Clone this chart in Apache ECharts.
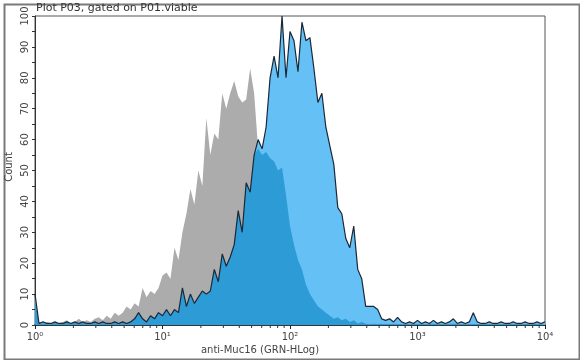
<!DOCTYPE html>
<html><head><meta charset="utf-8">
<script src="https://cdn.jsdelivr.net/npm/echarts@6/dist/echarts.min.js"></script>
<style>html,body{margin:0;padding:0;background:#fff}#c{width:580px;height:360px}</style>
</head><body><div id="c"></div>
<script>
// Histogram bins: 32 bins per decade from 10^0 to 10^4
const binsPerDecade = 32;
const decades = 4;
const xTickLabels = ['10\u2070','10\u00b9','10\u00b2','10\u00b3','10\u2074'];
const minorTickValues = [2,3,4,5,6,7,8,9,20,30,40,50,60,70,80,90,200,300,400,500,600,700,800,900,2000,3000,4000,5000,6000,7000,8000,9000];
const yTicks = [0,10,20,30,40,50,60,70,80,90,100];

// control (gray)
const control = [8,1,0.5,1,0.5,1,0.5,1,1.5,0.5,1,2,1,1.5,1,2,2.5,1.5,3,2,4,3,4,6,5,7,6,12,9,11,10,12,16,17,15,25,21,30,36,44,39,50,45,67,55,62,60,75,70,75,79,74,72,73,83,75,57,55,56,54,53,50,51,42,32,26,21,18,13,10,8,6,5,4,3,2,2.5,1.5,2,1,1.5,0.5,1,0.4,0.3,0.4,0.3,0.4,0.3,0.3,0.4,0.3,0.3,0.4,0.3,0.3,0.4,0.3,0.3,0.3,0.4,0.3,0.3,0.3,0.3,0.4,0.3,0.3,0.3,0.3,0.3,0.3,0.3,0.3,0.3,0.3,0.3,0.3,0.3,0.3,0.3,0.3,0.3,0.3,0.3,0.3,0.3,0.3,0.3];
// anti-Muc16 stained (light blue with outline)
const stained = [10,0.5,1,0.5,0.5,1,0.5,0.5,1,0.5,1,0.5,1,0.5,0.5,1,0.5,1,0.5,0.5,1,0.5,1,0.5,1,2,4,2,1,3,2,4,3,5,3,5,4,12,6,10,7,9,11,10,11,18,14,23,19,22,26,37,30,46,43,55,60,57,64,80,87,80,100,80,95,92,82,98,92,93,83,72,75,64,58,52,38,36,28,25,32,18,15,6,6,6,5,2,1.5,2,1,2.5,1,0.5,1,0.5,1.5,0.5,1,0.5,1.5,0.5,1,0.5,1,2,0.5,1,0.5,1,4,1,0.5,0.5,1,0.5,0.5,1,0.5,0.5,1,0.5,0.5,1,0.5,0.5,1,0.5,1];
// overlap region (darker blue)
const overlap = [8,0.5,0.5,0.5,0.5,1,0.5,0.5,1,0.5,1,0.5,1,0.5,0.5,1,0.5,1,0.5,0.5,1,0.5,1,0.5,1,2,4,2,1,3,2,4,3,5,3,5,4,12,6,10,7,9,11,10,11,18,14,23,19,22,26,37,30,46,43,55,57,55,56,54,53,50,51,42,32,26,21,18,13,10,8,6,5,4,3,2,2.5,1.5,2,1,1.5,0.5,1,0.4,0.3,0.4,0.3,0.4,0.3,0.3,0.4,0.3,0.3,0.4,0.3,0.3,0.4,0.3,0.3,0.3,0.4,0.3,0.3,0.3,0.3,0.4,0.3,0.3,0.3,0.3,0.3,0.3,0.3,0.3,0.3,0.3,0.3,0.3,0.3,0.3,0.3,0.3,0.3,0.3,0.3,0.3,0.3,0.3,0.3];

const binX = [];
for (let i = 0; i <= binsPerDecade * decades; i++) binX.push(Math.pow(10, i / binsPerDecade));
const pairs = arr => arr.map((v, i) => [binX[i], v]);

const FONT = 'DejaVu Sans';
const chart = echarts.init(document.getElementById('c'), null, {renderer: 'canvas'});
chart.setOption({
  animation: false,
  backgroundColor: '#fff',
  grid: {left: 35, right: 35, top: 16, bottom: 35, show: true, borderColor: '#555', borderWidth: 1},
  xAxis: {
    type: 'log', logBase: 10, min: 1, max: 10000,
    axisLine: {show: true, lineStyle: {color: '#111', width: 1.5}},
    axisTick: {show: true, length: 4, lineStyle: {color: '#222'}},
    splitLine: {show: false},
    axisLabel: {fontFamily: FONT, fontSize: 10, color: '#444', margin: 7,
      formatter: v => xTickLabels[Math.round(Math.log10(v))]}
  },
  yAxis: {
    type: 'value', min: 0, max: 100, interval: 10,
    axisLine: {show: true, lineStyle: {color: '#333', width: 1}},
    axisTick: {show: true, length: 3, lineStyle: {color: '#333'}},
    minorTick: {show: true, splitNumber: 2, length: 3, lineStyle: {color: '#333'}},
    splitLine: {show: false},
    axisLabel: {show: false}
  },
  series: [
    {type: 'line', data: pairs(control), symbol: 'none', lineStyle: {width: 0},
     areaStyle: {color: '#acacac', opacity: 1}, silent: true},
    {type: 'line', data: pairs(stained), symbol: 'none', lineStyle: {width: 0},
     areaStyle: {color: '#65c1f5', opacity: 1}, silent: true},
    {type: 'line', data: pairs(overlap), symbol: 'none', lineStyle: {width: 0},
     areaStyle: {color: '#2d9bd6', opacity: 1}, silent: true},
    {type: 'line', data: pairs(stained), symbol: 'none',
     lineStyle: {width: 1.2, color: '#1a2838'}, silent: true},
    {type: 'custom', data: minorTickValues.map(v => [v, 0]), clip: false, silent: true, z: 5,
     renderItem: (params, api) => {
       const p = api.coord([api.value(0), 0]);
       return {type: 'line', shape: {x1: p[0], y1: p[1], x2: p[0], y2: p[1] + 3},
               style: {stroke: '#333', lineWidth: 1}};
     }},
    // rotated y tick labels placed through the axis scale
    {type: 'custom', data: yTicks.map(v => [1, v]), clip: false, silent: true, z: 5,
     renderItem: (params, api) => {
       const v = api.value(1);
       const p = api.coord([1, v]);
       return {type: 'text', x: p[0] - 10, y: p[1], rotation: Math.PI / 2,
               style: {text: String(v), fontFamily: FONT, fontSize: 10, fill: '#444',
                       align: 'center', verticalAlign: 'middle'}};
     }}
  ],
  graphic: [
    {type: 'rect', left: 2, top: 2, shape: {x: 0, y: 0, width: 575, height: 355},
     style: {fill: null, stroke: '#7a7a7a', lineWidth: 2}, silent: true},
    {type: 'text', left: 36, top: 3, style: {text: 'Plot P03, gated on P01.viable', fontFamily: FONT, fontSize: 11, fill: '#333'}},
    {type: 'text', x: 260, y: 350, style: {text: 'anti-Muc16 (GRN-HLog)', fontFamily: FONT, fontSize: 10, fill: '#444', align: 'center', verticalAlign: 'middle'}},
    {type: 'text', x: 9, y: 167, rotation: Math.PI / 2, style: {text: 'Count', fontFamily: FONT, fontSize: 10, fill: '#444', align: 'center', verticalAlign: 'middle'}}
  ]
});
</script></body></html>
